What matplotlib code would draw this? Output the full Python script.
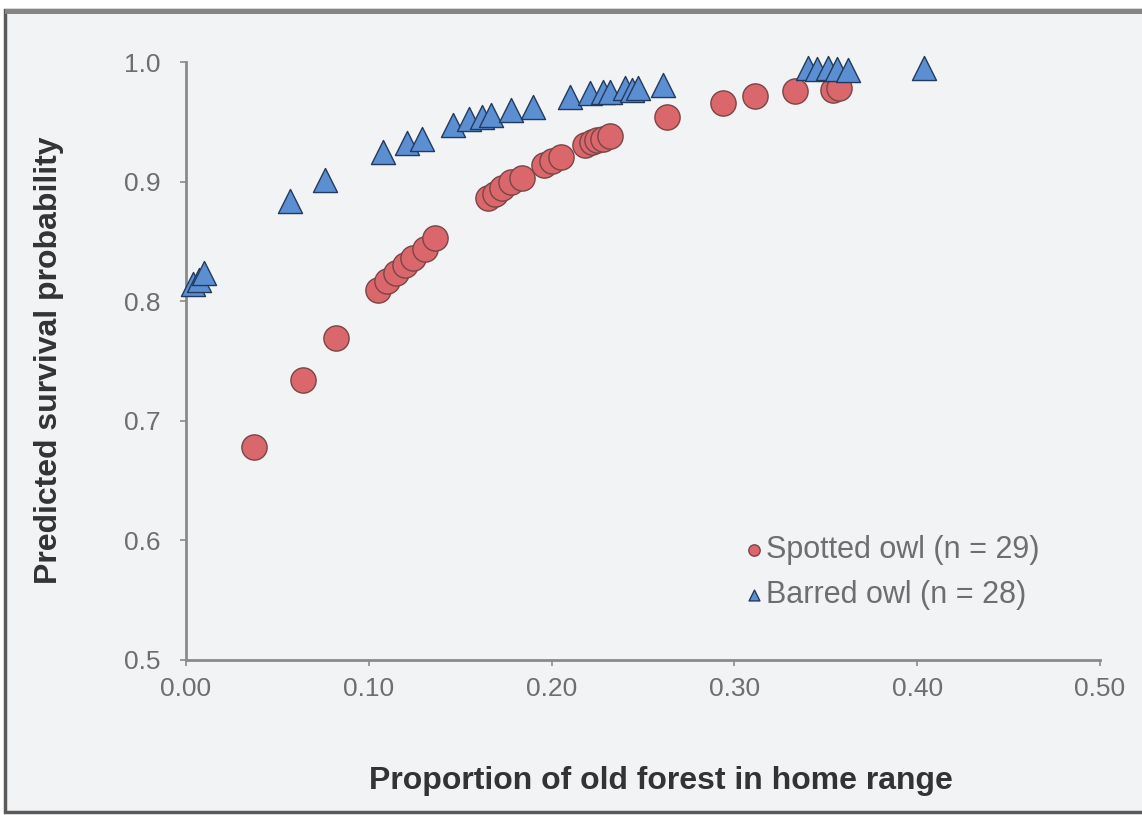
import matplotlib.pyplot as plt
from matplotlib.patches import Rectangle

plt.rcParams['font.family'] = ['Liberation Sans', 'DejaVu Sans']

# spotted owl (n = 29)
spotted_x = [0.037, 0.064, 0.082, 0.105, 0.110, 0.115, 0.120, 0.124, 0.131, 0.136,
             0.165, 0.169, 0.173, 0.178, 0.184, 0.196, 0.200, 0.205, 0.218, 0.222,
             0.225, 0.228, 0.232, 0.263, 0.294, 0.311, 0.333, 0.354, 0.357]
spotted_y = [0.678, 0.734, 0.769, 0.809, 0.817, 0.824, 0.830, 0.836, 0.844, 0.853,
             0.886, 0.890, 0.895, 0.900, 0.903, 0.914, 0.917, 0.921, 0.931, 0.933,
             0.935, 0.936, 0.938, 0.954, 0.966, 0.972, 0.976, 0.977, 0.978]

# barred owl (n = 28)
barred_x = [0.004, 0.007, 0.010, 0.057, 0.076, 0.108, 0.121, 0.129, 0.146, 0.155,
            0.162, 0.167, 0.178, 0.190, 0.210, 0.221, 0.228, 0.232, 0.240, 0.244,
            0.247, 0.261, 0.340, 0.345, 0.351, 0.356, 0.362, 0.404]
barred_y = [0.814, 0.818, 0.824, 0.884, 0.901, 0.925, 0.932, 0.936, 0.947, 0.952,
            0.954, 0.956, 0.960, 0.962, 0.971, 0.974, 0.975, 0.975, 0.978, 0.977,
            0.978, 0.981, 0.995, 0.994, 0.995, 0.994, 0.993, 0.995]

xticks = [0.0, 0.1, 0.2, 0.3, 0.4, 0.5]
yticks = [0.5, 0.6, 0.7, 0.8, 0.9, 1.0]

bg = '#f2f3f5'
fig = plt.figure(figsize=(11.42, 8.15), dpi=100, facecolor='white')
# grey frame around the chart area, kept behind the axes
fig.patches.append(Rectangle((5 / 1142, 3 / 815), 1.2, 802 / 815, transform=fig.transFigure,
                             facecolor=bg, edgecolor='#5a5a5a', linewidth=2.5, zorder=-10))
fig.patches.append(Rectangle((5 / 1142, 801 / 815), 1.2, 5 / 815, transform=fig.transFigure,
                             facecolor='#858585', edgecolor='none', zorder=-9))

ax = fig.add_axes([0.1629, 0.1902, 0.8003, 0.7337])
ax.set_facecolor(bg)

ax.scatter(spotted_x, spotted_y, s=330, marker='o', color='#d9676c', clip_on=False,
           edgecolors='#7a4546', linewidths=1.0, label='Spotted owl (n = 29)', zorder=3)
ax.scatter(barred_x, barred_y, s=300, marker='^', color='#5b8fd2', clip_on=False,
           edgecolors='#213a5e', linewidths=1.0, label='Barred owl (n = 28)', zorder=3)

ax.set_xlim(0, 0.5)
ax.set_ylim(0.5, 1.0)
ax.set_xticks(xticks)
ax.set_xticklabels([f'{t:.2f}' for t in xticks])
ax.set_yticks(yticks)
ax.set_yticklabels([f'{t:.1f}' for t in yticks])
ax.tick_params(colors='#8a8a8a', labelcolor='#6e6e6e', labelsize=19, length=4.5, width=1.2)
ax.tick_params(axis='x', pad=8)
ax.tick_params(axis='y', pad=14)

for side in ['top', 'right']:
    ax.spines[side].set_visible(False)
for side in ['left', 'bottom']:
    ax.spines[side].set_color('#8a8a8a')
    ax.spines[side].set_linewidth(2)

ax.set_xlabel('Proportion of old forest in home range', fontsize=23, fontweight='bold',
              color='#333333')
ax.set_ylabel('Predicted survival probability', fontsize=23, fontweight='bold',
              color='#333333')
ax.xaxis.set_label_coords(0.52, -0.178)
ax.yaxis.set_label_coords(-0.133, 0.502)

leg = ax.legend(loc='upper left', bbox_to_anchor=(0.595, 0.235), frameon=False, borderpad=0,
                fontsize=22, markerscale=0.45, handletextpad=0.1, handlelength=0.6,
                labelspacing=0.5, labelcolor='#6e6e6e')

fig.savefig('out.png', dpi=100, facecolor='white')
